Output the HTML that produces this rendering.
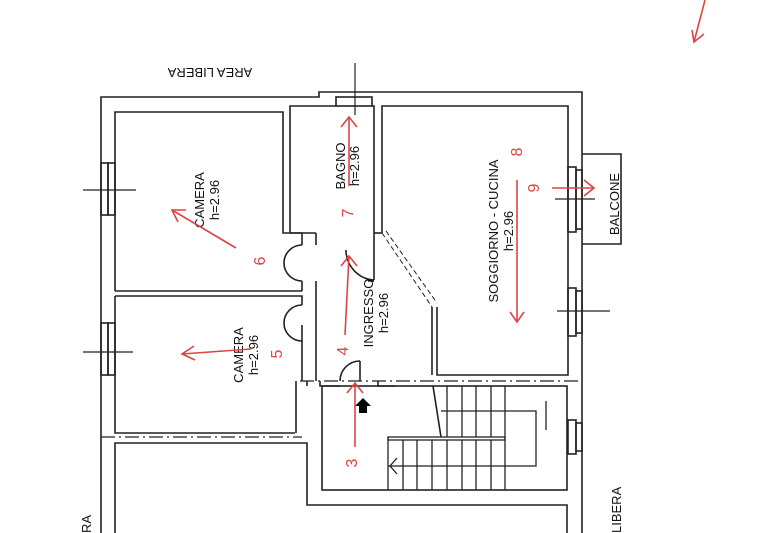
<!DOCTYPE html>
<html><head><meta charset="utf-8"><style>
html,body{margin:0;padding:0;background:#fff;}
svg{display:block}
text{font-family:"Liberation Sans",sans-serif;}
</style></head><body>
<svg width="778" height="533" viewBox="0 0 778 533" xmlns="http://www.w3.org/2000/svg">
<rect width="778" height="533" fill="#fff"/>
<g fill="none" stroke="#222" stroke-width="1.6">
<polyline points="101,533 101,97 319,97 319,92 582,92 582,533"/>
<polyline points="115,291 115,112 283,112 283,233 302,233 302,245"/>
<line x1="115" y1="291" x2="302" y2="291"/>
<line x1="302" y1="291" x2="302" y2="281"/>
<polyline points="115,296 302,296 302,305"/>
<polyline points="115,296 115,433 295,433"/>
<polyline points="302,325 302,381"/>
<line x1="296" y1="381" x2="296" y2="433"/>
<polyline points="290,233 290,106 336,106"/>
<polyline points="372,106 374,106 374,280"/>
<rect x="336" y="97" width="36" height="9"/>
<line x1="290" y1="233" x2="316" y2="233"/>
<line x1="316" y1="233" x2="316" y2="245"/>
<line x1="316" y1="281" x2="316" y2="381"/>
<polyline points="382,233 382,106 568,106 568,375 437,375 437,307"/>
<line x1="374" y1="233" x2="382" y2="233"/>
<polyline points="432,307 432,375"/>
<line x1="368" y1="281" x2="374" y2="281"/>
<rect x="101" y="163" width="7" height="52"/><rect x="108" y="163" width="7" height="52"/>
<rect x="101" y="323" width="7" height="52"/><rect x="108" y="323" width="7" height="52"/>
<rect x="568" y="167" width="8" height="65"/><rect x="576" y="170" width="6" height="59"/>
<rect x="568" y="288" width="8" height="48"/><rect x="576" y="291" width="6" height="42"/>
<rect x="568" y="420" width="8" height="34"/><rect x="576" y="423" width="6" height="28"/>
<polyline points="582,154 621,154 621,244 582,244"/>
<rect x="322" y="386" width="245" height="104"/>
<polyline points="307,386 307,381"/>
<polyline points="115,533 115,443 307,443 307,505 567,505 567,533"/>
<line x1="433" y1="386" x2="441" y2="437"/>
<g stroke-width="1.3">
<line x1="447" y1="386" x2="447" y2="437"/><line x1="462" y1="386" x2="462" y2="437"/>
<line x1="476" y1="386" x2="476" y2="437"/><line x1="491" y1="386" x2="491" y2="437"/>
<line x1="505" y1="386" x2="505" y2="490"/>
<polyline points="441,411 536,411 536,466 388,466"/>
<rect x="388" y="437" width="117" height="3"/>
<line x1="388" y1="437" x2="388" y2="490"/><line x1="403" y1="440" x2="403" y2="490"/>
<line x1="417" y1="440" x2="417" y2="490"/><line x1="432" y1="440" x2="432" y2="490"/>
<line x1="447" y1="440" x2="447" y2="490"/><line x1="462" y1="440" x2="462" y2="490"/>
<line x1="476" y1="440" x2="476" y2="490"/><line x1="491" y1="440" x2="491" y2="490"/>
<polyline points="397,458 390,466 397,474"/>
<line x1="546" y1="401" x2="546" y2="430"/>
</g>
<path d="M302,245 A18,18 0 0 0 302,281"/>
<path d="M302,305 A18,18 0 0 0 302,341"/>
<path d="M374,280 A30,30 0 0 1 346,250"/>
<path d="M340,381 A20,20 0 0 1 360,361"/>
<line x1="360" y1="361" x2="360" y2="381"/>
<polyline points="320,381 320,386 340,386"/><polyline points="378,381 378,386 395,386"/>
<g stroke-width="1.2">
<line x1="83" y1="190" x2="136" y2="190"/><line x1="83" y1="352" x2="133" y2="352"/>
<line x1="355" y1="63" x2="355" y2="115"/>
<line x1="555" y1="199" x2="595" y2="199"/><line x1="557" y1="311" x2="610" y2="311"/>
</g>
</g>
<g stroke="#222" stroke-width="1.3" fill="none" stroke-dasharray="14,4,2,4">
<line x1="300" y1="381" x2="582" y2="381"/>
<line x1="101" y1="437" x2="302" y2="437"/>
</g>
<g stroke="#222" stroke-width="1" fill="none" stroke-dasharray="5,3">
<line x1="382" y1="233" x2="432" y2="307"/>
<line x1="386" y1="231" x2="437" y2="303"/>
</g>
<g fill="#111" font-size="13">
<text x="210" y="76" text-anchor="middle" transform="rotate(180 210 72)">AREA LIBERA</text>
<text transform="translate(204,200) rotate(-90)" text-anchor="middle">CAMERA</text>
<text transform="translate(219,200) rotate(-90)" text-anchor="middle">h=2.96</text>
<text transform="translate(243,355) rotate(-90)" text-anchor="middle">CAMERA</text>
<text transform="translate(258,355) rotate(-90)" text-anchor="middle">h=2.96</text>
<text transform="translate(345,166) rotate(-90)" text-anchor="middle">BAGNO</text>
<text transform="translate(359,166) rotate(-90)" text-anchor="middle">h=2.96</text>
<text transform="translate(373,313) rotate(-90)" text-anchor="middle">INGRESSO</text>
<text transform="translate(388,313) rotate(-90)" text-anchor="middle">h=2.96</text>
<text transform="translate(498,231) rotate(-90)" text-anchor="middle">SOGGIORNO - CUCINA</text>
<text transform="translate(513,231) rotate(-90)" text-anchor="middle">h=2.96</text>
<text transform="translate(619,204) rotate(-90)" text-anchor="middle">BALCONE</text>
<text transform="translate(621,533) rotate(-90)" text-anchor="start">LIBERA</text>
<text transform="translate(91,533) rotate(-90)" text-anchor="start">RA</text>
</g>
<polygon points="363,398 355,406 359,406 359,413 367,413 367,406 371,406" fill="#000"/>
<g stroke="#d44" stroke-width="1.6" fill="none">
<line x1="236" y1="248" x2="172" y2="210"/><polyline points="186,210 172,210 178,222"/>
<line x1="251" y1="349" x2="182" y2="354"/><polyline points="194,346 182,354 195,360"/>
<line x1="349" y1="186" x2="349" y2="117"/><polyline points="341,127 349,117 357,127"/>
<line x1="345" y1="335" x2="349" y2="256"/><polyline points="341,266 349,256 357,266"/>
<line x1="355" y1="447" x2="355" y2="383"/><polyline points="347,393 355,383 363,393"/>
<line x1="517" y1="180" x2="517" y2="322"/><polyline points="510,312 517,322 524,312"/>
<line x1="552" y1="188" x2="594" y2="188"/><polyline points="584,180 594,188 584,196"/>
<line x1="705" y1="0" x2="694" y2="42"/><polyline points="692,30 694,42 704,34"/>
</g>
<g fill="#d44" font-size="16">
<text transform="translate(265,261) rotate(-90)" text-anchor="middle">6</text>
<text transform="translate(282,354) rotate(-90)" text-anchor="middle">5</text>
<text transform="translate(353,213) rotate(-90)" text-anchor="middle">7</text>
<text transform="translate(348,351) rotate(-90)" text-anchor="middle">4</text>
<text transform="translate(357,463) rotate(-90)" text-anchor="middle">3</text>
<text transform="translate(522,152) rotate(-90)" text-anchor="middle">8</text>
<text transform="translate(539,188) rotate(-90)" text-anchor="middle">9</text>
</g>
</svg>
</body></html>
